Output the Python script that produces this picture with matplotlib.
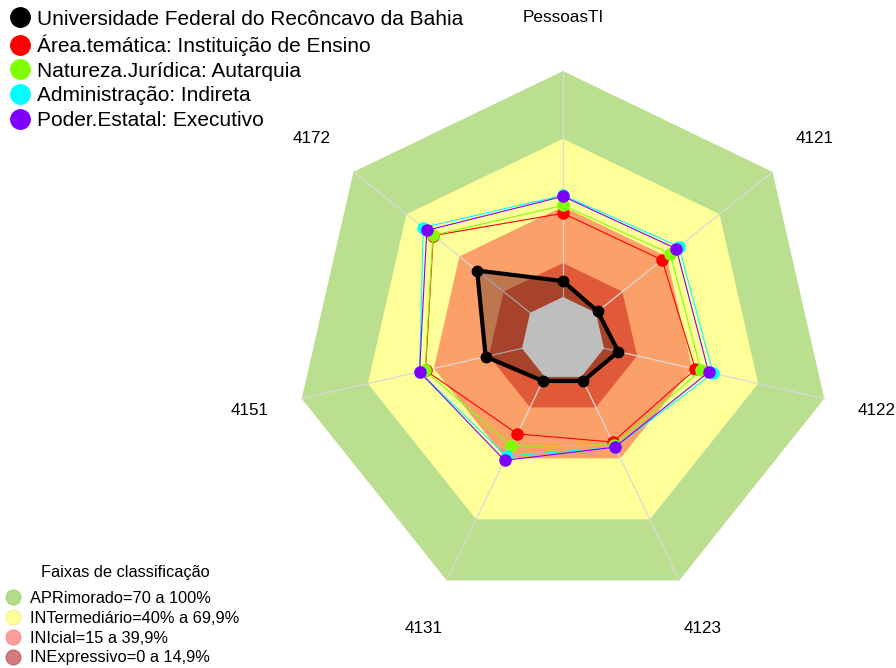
import numpy as np
import matplotlib
matplotlib.use('Agg')
import matplotlib.pyplot as plt
from matplotlib.lines import Line2D

plt.rcParams['font.family'] = ['Liberation Sans', 'DejaVu Sans']

axis_labels = ['PessoasTI', '4121', '4122', '4123', '4131', '4151', '4172']
series_names = ['Universidade Federal do Recôncavo da Bahia',
                'Área.temática: Instituição de Ensino',
                'Natureza.Jurídica: Autarquia',
                'Administração: Indireta',
                'Poder.Estatal: Executivo']
ufrb = [7, 1, 6.5, 2, 2, 16.5, 30]
area_tematica = [37, 37.5, 41.5, 32, 28, 43.8, 54.8]
natureza_juridica = [40.5, 42, 44, 33.5, 34, 44, 55]
administracao = [45, 47, 49.5, 34.5, 39, 46.5, 60.5]
poder_estatal = [44.5, 45.5, 47.5, 34.5, 41, 46.5, 58.5]
series_values = [ufrb, area_tematica, natureza_juridica, administracao, poder_estatal]
series_colors = ['#000000', '#FF0000', '#80FF00', '#00FFFF', '#8000FF']

band_names = ['APRimorado=70 a 100%', 'INTermediário=40% a 69,9%',
              'INIcial=15 a 39,9%', 'INExpressivo=0 a 14,9%']
band_upper = [100, 70, 40, 15]
band_fill = ['#B9DF8F', '#FFFF99', '#FCA06A', '#E05A3A']
band_legend_colors = ['#B5DC8A', '#FFFF9C', '#FF9C9C', '#D47C7C']
band_legend_edges = ['#A8D47C', '#F5F588', '#F59090', '#C86A6A']
center_color = '#BEBEBE'
legend_title = 'Faixas de classificação'

R0 = 0.157  # radial offset of value 0 (fmsb style, centerzero=FALSE)
n = len(axis_labels)
theta = np.pi / 2 - 2 * np.pi * np.arange(n) / n


def to_xy(values):
    v = np.asarray(values, dtype=float)
    r = R0 + (1 - R0) * v / 100.0
    x = r * np.cos(theta)
    y = r * np.sin(theta)
    return np.append(x, x[0]), np.append(y, y[0])


W, H = 896, 668
fig = plt.figure(figsize=(W / 100, H / 100), dpi=100)
ax = fig.add_axes([0, 0, 1, 1])
Rpx, cx, cy = 268.0, 563.0, 339.0
ax.set_xlim(-cx / Rpx, (W - cx) / Rpx)
ax.set_ylim(-(H - cy) / Rpx, cy / Rpx)
ax.axis('off')

# classification bands
for up, col in zip(band_upper, band_fill):
    x, y = to_xy([up] * n)
    ax.fill(x, y, color=col, lw=0, zorder=1)

# axis spokes
for t in theta:
    ax.plot([R0 * np.cos(t), np.cos(t)], [R0 * np.sin(t), np.sin(t)],
            color='#D9D9D9', lw=0.9, zorder=2)

# center
x, y = to_xy([0] * n)
ax.fill(x, y, color=center_color, lw=0, zorder=3.5)

# series
for i, (vals, col) in enumerate(zip(series_values, series_colors)):
    x, y = to_xy(vals)
    if i == 0:
        ax.fill(x, y, color='black', alpha=0.25, lw=0, zorder=3)
        ax.plot(x, y, color=col, lw=3.0, zorder=4 + i, solid_joinstyle='round')
        ax.plot(x[:-1], y[:-1], 'o', color=col, ms=7.5, zorder=4 + i)
    else:
        ax.plot(x, y, color=col, lw=0.8, zorder=4 + i)
        ax.plot(x[:-1], y[:-1], 'o', color=col, ms=8, zorder=4 + i)

# axis labels
for lab, t in zip(axis_labels, theta):
    ax.text(1.2 * np.cos(t), 1.2 * np.sin(t), lab, ha='center', va='center',
            fontsize=12.3, color='black', zorder=10)

# series legend
handles = [Line2D([], [], marker='o', ls='none', color=c, ms=14) for c in series_colors]
fig.legend(handles, series_names, loc='upper left', bbox_to_anchor=(-0.006, 0.998),
           frameon=False, fontsize=15, handletextpad=0.05, labelspacing=0.275,
           borderaxespad=0, handlelength=1.6)

# band legend
bh = [Line2D([], [], marker='o', ls='none', markerfacecolor=fc, markeredgecolor=ec,
             ms=10.5) for fc, ec in zip(band_legend_colors, band_legend_edges)]
fig.legend(bh, band_names, loc='lower left', bbox_to_anchor=(-0.006, -0.006),
           frameon=False, fontsize=11.8,
           handletextpad=0.38, labelspacing=0.3, borderaxespad=0, handlelength=1.4)
fig.text(125 / W, 1 - 572 / H, legend_title, ha='center', va='center', fontsize=11.8)

fig.savefig('out.png', dpi=100)
